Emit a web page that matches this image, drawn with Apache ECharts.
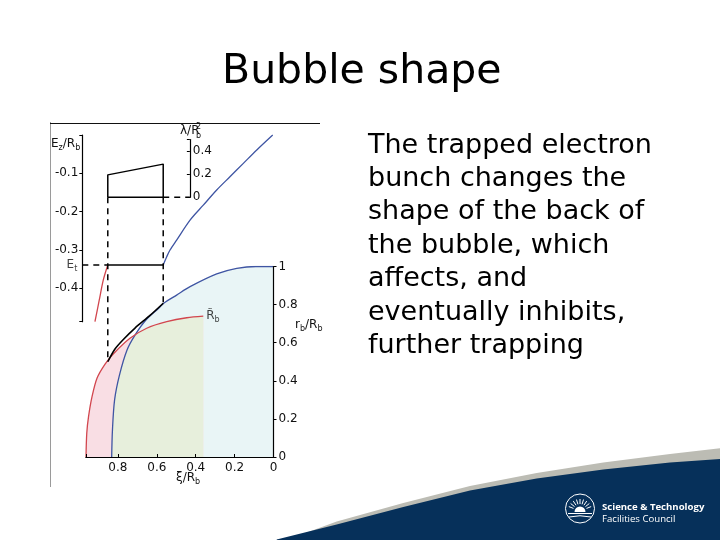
<!DOCTYPE html>
<html><head><meta charset="utf-8">
<script src="https://cdn.jsdelivr.net/npm/echarts@6/dist/echarts.min.js"></script>
<style>html,body{margin:0;padding:0;background:#fff}#c{width:720px;height:540px}</style>
</head><body><div id="c"></div>
<script>
// ---------------- data ----------------
const xiTickLabels = ['0', '0.2', '0.4', '0.6', '0.8'];
const rTickLabels = ['0', '0.2', '0.4', '0.6', '0.8', '1'];
const ezTickLabels = ['-0.1', '-0.2', '-0.3', '-0.4'];
const lambdaTickLabels = ['0', '0.2', '0.4'];

// bubble boundary r_b/R_b (blue)
const bubbleXi = [0.832, 0.828, 0.817, 0.792, 0.753, 0.712, 0.656, 0.589, 0.563, 0.498, 0.429, 0.292, 0.189, 0.09, 0];
const bubbleR  = [0, 0.142, 0.30, 0.43, 0.562, 0.64, 0.719, 0.782, 0.808, 0.85, 0.894, 0.961, 0.99, 1.0, 1.0];
// unloaded bubble R~_b (red)
const bunchXi = [0.964, 0.960, 0.951, 0.933, 0.907, 0.866, 0.824, 0.738, 0.652, 0.549, 0.446, 0.361];
const bunchR  = [0, 0.126, 0.212, 0.317, 0.415, 0.488, 0.541, 0.623, 0.676, 0.710, 0.731, 0.739];
// modified boundary with trapped bunch (black)
const trappedXi = [0.852, 0.815, 0.772, 0.712, 0.635, 0.567];
const trappedR  = [0.5, 0.567, 0.617, 0.677, 0.743, 0.807];
// crossing of the red and blue boundaries
const crossXi = 0.714, crossR = 0.638;

// longitudinal field E_z/R_b (blue, upper panel)
const fieldXi = [0.567, 0.549, 0.532, 0.498, 0.429, 0.361, 0.292, 0.224, 0.155, 0.086, 0.004];
const fieldEz = [-0.339, -0.3175, -0.300, -0.274, -0.222, -0.183, -0.1435, -0.109, -0.074, -0.039, 0];
// field behind the bunch (red, upper panel)
const fieldTrapXi = [0.852, 0.875, 0.896, 0.918];
const fieldTrapEz = [-0.339, -0.378, -0.431, -0.487];

// bunch line density λ/R_b^2
const bunchEdgeXi = [0.852, 0.852, 0.567, 0.567, 0.852];
const bunchLambda = [0, 0.194, 0.287, 0, 0];

const Et = -0.339;
const xiTrapStart = 0.852, xiTrapEnd = 0.567;
const etDashStartXi = 0.983;
const lambdaZeroEz = -0.1625;
const trapStartBottomEz = -0.591, trapEndBottomEz = -0.439;
const lambdaAxisXi = 0.43;

const titleText = 'Bubble shape';
const bodyLines = ['The trapped electron', 'bunch changes the', 'shape of the back of',
  'the bubble, which', 'affects, and', 'eventually inhibits,', 'further trapping'];

// ---------------- layout / style ----------------
const X0 = 273.5, PX = 194.5;
const lowMax = 0.965, upMax = 0.983;
const F = 'DejaVu Sans';
const BLUE = '#3f55a3', RED = '#d2464e', BLACK = '#000';
const LB = '#e9f5f6', PINK = '#f9dee4', GREEN = '#e7efdc';
const NAVY = '#06305a', GREY = '#bcbcb4';

const pairs = (xs, ys) => xs.map((x, i) => [x, ys[i]]);
const pick = labels => v => { const s = String(Math.round(v * 10) / 10); return labels.includes(s) ? s : ''; };

const greenXi = [], greenR = [];
bubbleXi.forEach((x, i) => { if (x > crossXi) { greenXi.push(x); greenR.push(bubbleR[i]); } });
greenXi.push(crossXi); greenR.push(crossR);
bunchXi.forEach((x, i) => { if (x < crossXi) { greenXi.push(x); greenR.push(bunchR[i]); } });

const rich = {
  sub: { fontSize: 8, lineHeight: 8, verticalAlign: 'bottom', fontFamily: F, fill: '#111', color: '#111' },
  sup: { fontSize: 8, lineHeight: 8, verticalAlign: 'top', fontFamily: F, fill: '#111', color: '#111' }
};
const txt = (x, y, text, extra) => ({
  type: 'text', x, y, z: 100,
  style: Object.assign({ text, font: '12px "DejaVu Sans"', fill: '#111', lineHeight: 16, verticalAlign: 'middle', rich }, extra || {})
});

const axisLine = { show: true, onZero: false, lineStyle: { color: BLACK, width: 1.2 } };
const axisTick = (inside) => ({ show: true, inside: !!inside, length: 3, lineStyle: { color: BLACK, width: 1 } });
const lbl = (fmt, extra) => Object.assign({ formatter: fmt, fontSize: 12, fontFamily: F, color: '#111' }, extra || {});

const line = (data, opts) => Object.assign({
  type: 'line', data, showSymbol: false, symbol: 'none', silent: true, animation: false
}, opts);

// navy swoosh + grey band
const greyTop = [[300, 535], [336.7, 521.5], [403.3, 503], [470, 486], [536.7, 473], [603.3, 462.5], [670, 454], [720, 448.3]];
const navyTop = [[276.7, 539.5], [336.7, 524.5], [403.3, 507], [470, 490.5], [536.7, 478.5], [603.3, 469.5], [670, 462.5], [720, 459]];

const rays = [];
for (let k = 0; k < 9; k++) {
  const a = Math.PI * (1.12 + 0.095 * k);
  rays.push({ type: 'line', z: 101, shape: { x1: 580 + 7 * Math.cos(a), y1: 511 + 7 * Math.sin(a), x2: 580 + 12 * Math.cos(a), y2: 511 + 12 * Math.sin(a) }, style: { stroke: '#fff', lineWidth: 1 } });
}

const chart = echarts.init(document.getElementById('c'), null, { renderer: 'canvas' });
chart.setOption({
  animation: false,
  textStyle: { fontFamily: F },
  grid: [
    { left: X0 - lowMax * PX, width: lowMax * PX, top: 266.5, height: 190.5, outerBoundsMode: 'none' },
    { left: X0 - upMax * PX, width: upMax * PX, top: 135, height: 186.7, outerBoundsMode: 'none' },
    { left: X0 - upMax * PX, width: upMax * PX, top: 139.5, height: 57.8, outerBoundsMode: 'none' }
  ],
  xAxis: [
    { gridIndex: 0, type: 'value', inverse: true, min: 0, max: lowMax, interval: 0.2, z: 10,
      axisLine, axisTick: axisTick(true), splitLine: { show: false },
      axisLabel: lbl(pick(xiTickLabels), { margin: 5 }) },
    { gridIndex: 1, type: 'value', inverse: true, min: 0, max: upMax, show: false, splitLine: { show: false } },
    { gridIndex: 2, type: 'value', inverse: true, min: 0, max: upMax, show: false, splitLine: { show: false } }
  ],
  yAxis: [
    { gridIndex: 0, type: 'value', position: 'right', min: 0, max: 1, interval: 0.2, z: 10,
      axisLine, axisTick: axisTick(false), splitLine: { show: false },
      axisLabel: lbl(pick(rTickLabels), { margin: 5 }) },
    { gridIndex: 1, type: 'value', position: 'left', min: -0.487, max: 0, z: 10,
      axisLine, axisTick: axisTick(false), splitLine: { show: false },
      axisLabel: lbl(pick(ezTickLabels), { margin: 4 }) },
    { gridIndex: 2, type: 'value', position: 'left', offset: -(upMax - lambdaAxisXi) * PX, min: 0, max: 0.5, interval: 0.2, z: 10,
      axisLine, axisTick: axisTick(false), splitLine: { show: false },
      axisLabel: lbl(pick(lambdaTickLabels), { margin: 3, inside: true }) }
  ],
  series: [
    // fills
    line(pairs(bubbleXi, bubbleR), { xAxisIndex: 0, yAxisIndex: 0, smooth: 0.3, lineStyle: { width: 0 }, areaStyle: { color: LB, opacity: 1 }, z: 1 }),
    line(pairs(bunchXi, bunchR), { xAxisIndex: 0, yAxisIndex: 0, smooth: 0.3, lineStyle: { width: 0 }, areaStyle: { color: PINK, opacity: 1 }, z: 1 }),
    line(pairs(greenXi, greenR), { xAxisIndex: 0, yAxisIndex: 0, smooth: 0.3, lineStyle: { width: 0 }, areaStyle: { color: GREEN, opacity: 1 }, z: 1 }),
    // boundaries
    line(pairs(bubbleXi, bubbleR), { xAxisIndex: 0, yAxisIndex: 0, smooth: 0.3, lineStyle: { color: BLUE, width: 1.3 }, z: 3 }),
    line(pairs(bunchXi, bunchR), { xAxisIndex: 0, yAxisIndex: 0, smooth: 0.3, lineStyle: { color: RED, width: 1.3 }, z: 3 }),
    line(pairs(trappedXi, trappedR), { xAxisIndex: 0, yAxisIndex: 0, smooth: 0.3, lineStyle: { color: BLACK, width: 1.6 }, z: 4 }),
    { type: 'scatter', xAxisIndex: 0, yAxisIndex: 0, symbolSize: 0, clip: false, silent: true,
      data: [[bunchXi[bunchXi.length - 1], bunchR[bunchR.length - 1]]],
      label: { show: true, position: 'right', distance: 3, formatter: 'R\u0303{sub|b}', fontSize: 12, fontFamily: F, color: '#111', lineHeight: 16, rich } },
    // upper panel
    line(pairs(fieldXi, fieldEz), { xAxisIndex: 1, yAxisIndex: 1, smooth: 0.3, clip: false, lineStyle: { color: BLUE, width: 1.3 }, z: 3 }),
    line(pairs(fieldTrapXi, fieldTrapEz), { xAxisIndex: 1, yAxisIndex: 1, smooth: 0.3, clip: false, lineStyle: { color: RED, width: 1.3 }, z: 3 }),
    line([[xiTrapStart, Et], [xiTrapEnd, Et]], { xAxisIndex: 1, yAxisIndex: 1, clip: false, lineStyle: { color: BLACK, width: 1.5 }, z: 4 }),
    line([[etDashStartXi, Et], [xiTrapStart, Et]], { xAxisIndex: 1, yAxisIndex: 1, clip: false, lineStyle: { color: BLACK, width: 1.5, type: [6, 5] }, z: 4 }),
    line([[xiTrapStart, lambdaZeroEz], [xiTrapStart, trapStartBottomEz]], { xAxisIndex: 1, yAxisIndex: 1, clip: false, lineStyle: { color: BLACK, width: 1.5, type: [6, 5] }, z: 4 }),
    line([[xiTrapEnd, lambdaZeroEz], [xiTrapEnd, trapEndBottomEz]], { xAxisIndex: 1, yAxisIndex: 1, clip: false, lineStyle: { color: BLACK, width: 1.5, type: [6, 5] }, z: 4 }),
    { type: 'scatter', xAxisIndex: 1, yAxisIndex: 1, symbolSize: 0, clip: false, silent: true,
      data: [[etDashStartXi, Et]],
      label: { show: true, position: 'left', distance: 5, formatter: 'E{sub|t}', fontSize: 12, fontFamily: F, color: '#111', lineHeight: 16, rich } },
    // lambda panel
    line(pairs(bunchEdgeXi, bunchLambda), { xAxisIndex: 2, yAxisIndex: 2, clip: false, lineStyle: { color: BLACK, width: 1.5 }, z: 4 }),
    line([[xiTrapEnd, 0], [lambdaAxisXi, 0]], { xAxisIndex: 2, yAxisIndex: 2, clip: false, lineStyle: { color: BLACK, width: 1.5, type: [6, 5] }, z: 4 })
  ],
  graphic: { elements: [
    // figure frame
    { type: 'line', z: 50, shape: { x1: 50.5, y1: 122, x2: 50.5, y2: 487 }, style: { stroke: '#9a9a9a', lineWidth: 1 } },
    { type: 'line', z: 50, shape: { x1: 50, y1: 123.5, x2: 320, y2: 123.5 }, style: { stroke: '#111', lineWidth: 1 } },
    // axis names
    txt(51, 144, 'E{sub|z}/R{sub|b}'),
    txt(180, 131, 'λ/R'),
    txt(196, 127, '2', { font: '8px "DejaVu Sans"', lineHeight: 8 }),
    txt(196, 136, 'b', { font: '8px "DejaVu Sans"', lineHeight: 8 }),
    txt(295, 325, 'r{sub|b}/R{sub|b}'),
    txt(176, 478, 'ξ/R{sub|b}'),
    // title + text
    { type: 'text', x: 222, y: 72, z: 100, style: { text: titleText, font: '41px "DejaVu Sans"', fill: '#000', verticalAlign: 'middle' } },
    { type: 'text', x: 368, y: 128.8, z: 100, style: { text: bodyLines.join('\n'), font: '27px "DejaVu Sans"', fill: '#000', lineHeight: 33.4, verticalAlign: 'top' } },
    // swoosh
    { type: 'polygon', z: 20, shape: { points: greyTop.concat([[720, 540], [276.7, 540]]) }, style: { fill: GREY } },
    { type: 'polygon', z: 21, shape: { points: navyTop.concat([[720, 540], [276.7, 540]]) }, style: { fill: NAVY } },
    // logo
    { type: 'circle', z: 101, shape: { cx: 580, cy: 508.5, r: 14.5 }, style: { fill: 'none', stroke: '#fff', lineWidth: 1 } },
    { type: 'sector', z: 101, shape: { cx: 580, cy: 512, r0: 0, r: 5.5, startAngle: Math.PI, endAngle: 2 * Math.PI }, style: { fill: '#fff' } },
    { type: 'line', z: 101, shape: { x1: 568, y1: 513.5, x2: 592, y2: 513.5 }, style: { stroke: '#fff', lineWidth: 1 } },
    { type: 'bezierCurve', z: 101, shape: { x1: 569, y1: 517, x2: 591, y2: 517, cpx1: 580, cpy1: 514.5 }, style: { stroke: '#fff', lineWidth: 1, fill: 'none' } },
    ...rays,
    { type: 'text', x: 602, y: 507, z: 101, style: { text: 'Science & Technology', font: 'bold 9.6px "Open Sans"', fill: '#fff', verticalAlign: 'middle' } },
    { type: 'text', x: 602, y: 519, z: 101, style: { text: 'Facilities Council', font: '9.6px "Open Sans"', fill: '#fff', verticalAlign: 'middle' } }
  ] }
});
</script></body></html>
